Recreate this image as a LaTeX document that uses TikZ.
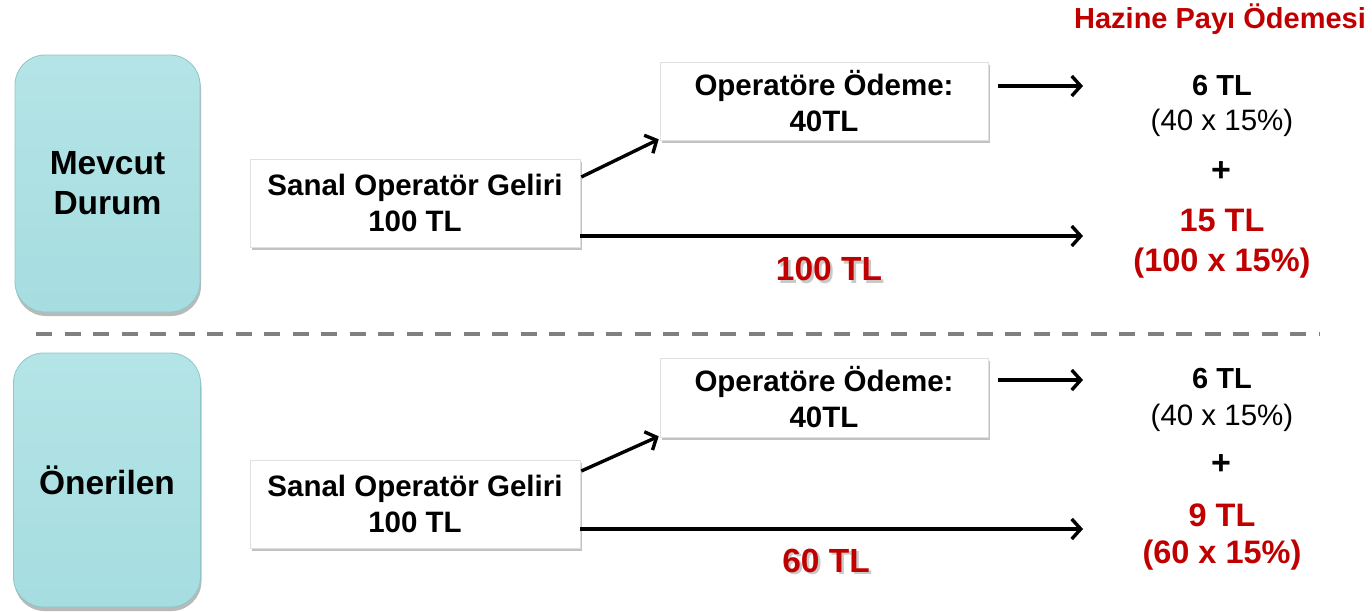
\documentclass[tikz,border=0pt]{standalone}
\usepackage{fontspec}
\setmainfont{Liberation Sans}
\usetikzlibrary{arrows.meta,shadows}
\definecolor{tlred}{HTML}{C00000}
\definecolor{boxcyan}{HTML}{A6DDE0}
\definecolor{boxcyanlt}{HTML}{B4E4E6}
\definecolor{cyanedge}{HTML}{8CC6CA}
\definecolor{dashgray}{HTML}{808080}
\begin{document}
\begin{tikzpicture}[x=1pt,y=-1pt,
  bigtxt/.style={font=\fontsize{29}{35}\selectfont\bfseries, inner sep=0pt, anchor=base},
  plustxt/.style={font=\fontsize{34}{38}\selectfont\bfseries, inner sep=0pt, anchor=base},
  regtxt/.style={font=\fontsize{29.5}{35}\selectfont, inner sep=0pt, anchor=base},
  redtxt/.style={font=\fontsize{32.5}{38}\selectfont\bfseries, inner sep=0pt, anchor=base, text=tlred},
  headtxt/.style={bigtxt, text=tlred},
  amttxt/.style={font=\fontsize{33.5}{38}\selectfont\bfseries, inner sep=0pt, anchor=base},
  sidebox/.style={draw=cyanedge, line width=0.8pt, rounded corners=30pt,
    top color=boxcyanlt, bottom color=boxcyan,
    drop shadow={shadow xshift=1pt, shadow yshift=-4pt, fill=black!50, opacity=0.55},
    align=center, inner sep=0pt, font=\fontsize{33.5}{40}\selectfont\bfseries},
  flowbox/.style={draw=black!12, line width=0.6pt, fill=white,
    drop shadow={shadow xshift=2pt, shadow yshift=-3pt, fill=black!40, opacity=0.6},
    align=center, inner sep=0pt, font=\fontsize{29.5}{36}\selectfont\bfseries},
  arr/.style={line width=3.4pt, -{Straight Barb[length=9pt,width=20pt]}},
  sepline/.style={line width=4pt, dashgray, dash pattern=on 16pt off 12.5pt}
]
\useasboundingbox (0,0) rectangle (1372,611);

% side boxes
\node[sidebox, minimum width=185pt, minimum height=257pt] (mevcut) at (107.5,183.5) {Mevcut\\Durum};
\node[sidebox, minimum width=187pt, minimum height=254pt] (oneri) at (107,480) {Önerilen};

% separator
\coordinate (sepA) at (36,334);
\coordinate (sepB) at (1320,334);
\draw[sepline] (sepA) -- (sepB);

% flow boxes upper
\node[flowbox, minimum width=330pt, minimum height=88pt] (s1) at (415,203) {Sanal Operatör Geliri\\100 TL};
\node[flowbox, minimum width=328pt, minimum height=78pt] (o1) at (824,101) {Operatöre Ödeme:\\40TL};
% flow boxes lower
\node[flowbox, minimum width=330pt, minimum height=88pt] (s2) at (415,504) {Sanal Operatör Geliri\\100 TL};
\node[flowbox, minimum width=328pt, minimum height=79pt] (o2) at (824,397.5) {Operatöre Ödeme:\\40TL};

% arrow end points
\coordinate (t1) at (1083,86);
\coordinate (h1) at (1083,236);
\coordinate (t2) at (1083,380);
\coordinate (h2) at (1083,529);

% arrows upper
\draw[arr] ([yshift=26pt,xshift=1pt]s1.east) -- ([xshift=-1pt,yshift=1pt]o1.south west);
\draw[arr] ([yshift=-33pt]s1.east) -- (h1);
\draw[arr] ([xshift=10pt,yshift=15pt]o1.east) -- (t1);
% arrows lower
\draw[arr] ([yshift=33pt,xshift=1pt]s2.east) -- ([xshift=-1pt,yshift=1pt]o2.south west);
\draw[arr] ([yshift=-25pt]s2.east) -- (h2);
\draw[arr] ([xshift=10pt,yshift=17.5pt]o2.east) -- (t2);

% heading
\node[headtxt] (hz) at (1220,28) {Hazine Payı Ödemesi};

% upper result column
\node[bigtxt] (u6) at (1222,95) {6 TL};
\node[regtxt] (u40) at (1222,130) {(40 x 15\%)};
\node[plustxt] (uplus) at (1221,181) {+};
\node[redtxt] (u15) at (1222,231) {15 TL};
\node[redtxt] (u100) at (1222,271) {(100 x 15\%)};

% amount on upper arrow (with soft shadow)
\node[amttxt, text=black!30, opacity=0.7] (a100s) at (831.5,283) {100 TL};
\node[amttxt, text=tlred] (a100) at (829,280.5) {100 TL};

% lower result column
\node[bigtxt] (l6) at (1222,388) {6 TL};
\node[regtxt] (l40) at (1222,425) {(40 x 15\%)};
\node[plustxt] (lplus) at (1221,474) {+};
\node[redtxt] (l9) at (1222,526) {9 TL};
\node[redtxt] (l60) at (1222,563) {(60 x 15\%)};

\node[amttxt, text=black!30, opacity=0.7] (a60s) at (828.5,574.5) {60 TL};
\node[amttxt, text=tlred] (a60) at (826,572) {60 TL};
\end{tikzpicture}
\end{document}
